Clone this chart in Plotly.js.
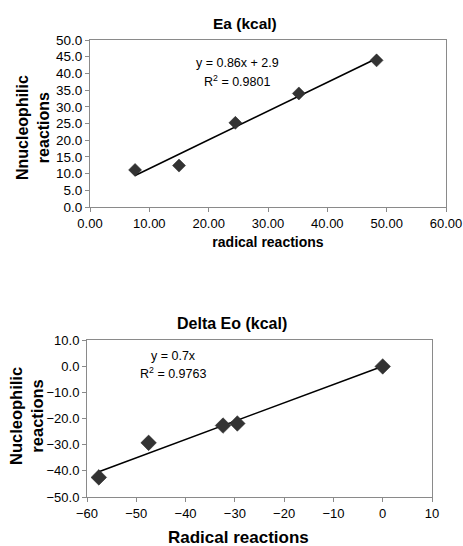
<!DOCTYPE html>
<html>
<head>
<meta charset="utf-8">
<script src="https://cdn.plot.ly/plotly-3.0.1.min.js"></script>
<style>html,body{margin:0;padding:0;background:#fff;}#chart{width:463px;height:546px;}</style>
</head>
<body>
<div id="chart"></div>
<script>
// Ea (kcal)
const eaRadical = [7.6, 15.0, 24.5, 35.2, 48.3];
const eaNucleophilic = [11.1, 12.4, 25.2, 34.0, 43.9];
const eaSlope = 0.86, eaIntercept = 2.9;
// Delta Eo (kcal)
const deRadical = [-57.6, -47.5, -32.4, -29.5, 0.0];
const deNucleophilic = [-42.5, -29.3, -22.7, -21.9, -0.1];
const deSlope = 0.7, deIntercept = 0;

const FONT = "Arial, 'Liberation Sans', sans-serif";
const W = 463, H = 546;
const px = v => v / W, py = v => 1 - v / H;

function trend(xs, m, b) {
  const lo = Math.min(...xs), hi = Math.max(...xs);
  return {x: [lo, hi], y: [m * lo + b, m * hi + b]};
}
const t1 = trend(eaRadical, eaSlope, eaIntercept);
const t2 = trend(deRadical, deSlope, deIntercept);

const marker1 = {symbol: 'diamond', size: 10, color: '#333333', line: {color: '#222', width: 0.5}};
const marker2 = {symbol: 'diamond', size: 12, color: '#333333', line: {color: '#222', width: 0.5}};
const data = [
  {x: t1.x, y: t1.y, mode: 'lines', line: {color: '#000', width: 1.6}, xaxis: 'x', yaxis: 'y', hoverinfo: 'skip'},
  {x: eaRadical, y: eaNucleophilic, mode: 'markers', marker: marker1, xaxis: 'x', yaxis: 'y'},
  {x: t2.x, y: t2.y, mode: 'lines', line: {color: '#000', width: 1.6}, xaxis: 'x2', yaxis: 'y2', hoverinfo: 'skip'},
  {x: deRadical, y: deNucleophilic, mode: 'markers', marker: marker2, xaxis: 'x2', yaxis: 'y2'}
];

const axBase = {
  showgrid: false, zeroline: false, showline: true, mirror: true,
  linecolor: '#8a8a8a', linewidth: 1, ticks: 'outside', ticklen: 4,
  tickcolor: '#8a8a8a', tickfont: {family: FONT, size: 13, color: '#000'}
};

function ann(text, x, y, size, bold, angle) {
  return {text: bold ? '<b>' + text + '</b>' : text, xref: 'paper', yref: 'paper',
    x: px(x), y: py(y), xanchor: 'center', yanchor: 'middle', showarrow: false,
    textangle: angle || 0, font: {family: FONT, size: size, color: '#000'}};
}

const layout = {
  width: W, height: H, showlegend: false,
  paper_bgcolor: '#fff', plot_bgcolor: '#fff',
  margin: {l: 0, r: 0, t: 0, b: 0},
  xaxis: Object.assign({}, axBase, {
    domain: [px(90), px(446)], anchor: 'y', range: [0, 60], dtick: 10, tickformat: '.2f',
    tickfont: {family: FONT, size: 13, color: '#000'},
    title: {text: 'radical reactions', font: {family: FONT, size: 14, color: '#000', weight: 'bold'}, standoff: 7}
  }),
  yaxis: Object.assign({}, axBase, {
    domain: [py(207), py(40)], anchor: 'x', range: [0, 50], dtick: 5, tickformat: '.1f',
    tickfont: {family: FONT, size: 13.5, color: '#000'}
  }),
  xaxis2: Object.assign({}, axBase, {
    domain: [px(87), px(432)], anchor: 'y2', range: [-60, 10], dtick: 10
  }),
  yaxis2: Object.assign({}, axBase, {
    domain: [py(497), py(340)], anchor: 'x2', range: [-50, 10], dtick: 10, tickformat: '.1f'
  }),
  annotations: [
    ann('Ea (kcal)', 245, 24, 15.5, true),
    ann('Delta Eo (kcal)', 232, 323, 16, true),
    ann('Nnucleophilic<br>reactions', 33, 128, 16, true, -90),
    ann('Nucleophilic<br>reactions', 26, 416, 16.5, true, -90),
    ann('Radical reactions', 238, 537, 17, true),
    ann('y = 0.86x + 2.9', 237, 63, 12.5, false),
    ann('R<sup>2</sup> = 0.9801', 237, 81, 12.5, false),
    ann('y = 0.7x', 173, 356, 12.5, false),
    ann('R<sup>2</sup> = 0.9763', 173, 373, 12.5, false)
  ]
};

Plotly.newPlot('chart', data, layout, {displayModeBar: false, staticPlot: true});
</script>
</body>
</html>
